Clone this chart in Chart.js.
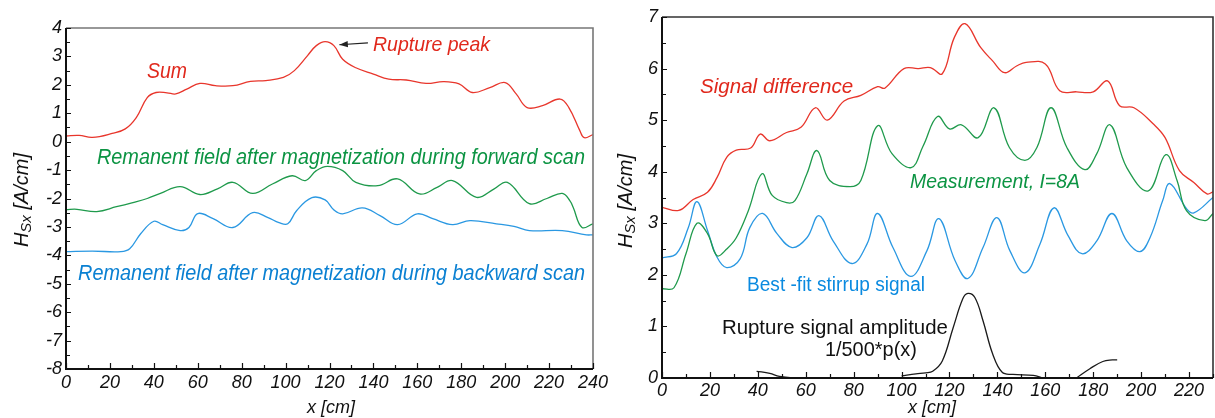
<!DOCTYPE html>
<html>
<head>
<meta charset="utf-8">
<script src="https://cdn.jsdelivr.net/npm/chart.js@4"></script>
<style>
  body { margin: 0; background: #fff; }
  #wrap { position: relative; width: 1215px; height: 418px; }
  .panel { position: absolute; top: 0; height: 418px; }
</style>
</head>
<body>
<div id="wrap">
  <div class="panel" style="left:0;width:620px"><canvas id="left"></canvas></div>
  <div class="panel" style="left:600px;width:615px"><canvas id="right"></canvas></div>
</div>
<script>
// left panel: sum of both remanent scans (x in cm, H in A/cm)
const sumX = [0, 6, 12, 21, 27, 32, 37, 41, 46, 50, 55, 61, 68, 76, 84, 91, 99, 104, 110, 114, 118, 122, 126, 132, 140, 147, 155, 164, 172, 179, 185, 193, 200, 205, 210, 217, 225, 229, 234, 236, 240];
const sumY = [0.2, 0.22, 0.15, 0.29, 0.45, 0.85, 1.55, 1.73, 1.72, 1.68, 1.85, 2.05, 1.97, 1.97, 2.12, 2.15, 2.26, 2.5, 3.03, 3.38, 3.52, 3.38, 2.9, 2.6, 2.38, 2.2, 2.17, 2.05, 2.11, 2.03, 1.73, 1.9, 2.08, 1.68, 1.2, 1.27, 1.5, 1.2, 0.39, 0.14, 0.25];

const fwdX = [0, 5, 14, 23, 30, 37, 43, 52, 61, 69, 76, 85, 94, 103, 109, 114, 119, 126, 132, 142, 151, 161, 169, 176, 187, 195, 201, 211, 219, 226, 229.5, 231, 235, 240];
const fwdY = [-2.39, -2.38, -2.46, -2.29, -2.15, -2.0, -1.82, -1.58, -1.86, -1.66, -1.43, -1.82, -1.49, -1.2, -1.37, -1.02, -0.87, -1.02, -1.43, -1.55, -1.31, -1.84, -1.61, -1.37, -1.96, -1.66, -1.43, -2.18, -2.0, -1.82, -2.08, -2.32, -3.02, -2.89];

const bwdX = [0, 12, 25, 29, 34, 40, 44, 52, 56, 60, 67, 76, 85, 92, 97, 101, 105, 112, 118, 122, 126, 135, 143, 151, 160, 167, 176, 184, 196, 204, 211, 226, 237, 240];
const bwdY = [-3.87, -3.85, -3.87, -3.77, -3.24, -2.8, -2.92, -3.13, -3.02, -2.53, -2.71, -3.02, -2.5, -2.67, -2.85, -2.89, -2.43, -1.97, -2.05, -2.4, -2.54, -2.33, -2.6, -2.92, -2.54, -2.71, -2.92, -2.78, -2.89, -2.98, -3.13, -3.13, -3.28, -3.28];

// right panel: difference signal, measurement, fitted stirrups, rupture amplitude
const diffX = [0, 7, 13, 19, 23, 27, 31, 37, 41, 45, 52, 58, 64, 69, 76, 83, 90, 93, 101, 107, 112, 117, 122, 126.5, 133, 138, 143, 148, 152, 160, 166, 173, 180, 186, 191, 197, 205, 210, 216, 222, 227.5, 230];
const diffY = [3.31, 3.25, 3.46, 3.6, 3.89, 4.28, 4.42, 4.46, 4.73, 4.6, 4.76, 4.86, 5.24, 5.0, 5.37, 5.48, 5.65, 5.62, 6.0, 6.0, 6.02, 5.9, 6.6, 6.87, 6.41, 6.15, 5.92, 6.05, 6.12, 6.09, 5.57, 5.55, 5.55, 5.76, 5.28, 5.24, 4.93, 4.66, 4.02, 3.79, 3.57, 3.61];

const measX = [0, 5, 10, 14.6, 19, 23, 27, 31, 36, 41.7, 46, 52, 55.5, 60.5, 64.7, 70, 78.5, 83, 90, 96, 104, 109, 115, 120, 125, 132, 138.6, 145, 151.5, 156.5, 162.4, 169, 176.5, 181.5, 187, 194, 203, 210.3, 215, 219, 226.6, 230];
const measY = [1.73, 1.75, 2.41, 3.0, 2.8, 2.37, 2.5, 2.72, 3.24, 3.96, 3.54, 3.4, 3.44, 3.96, 4.41, 3.83, 3.71, 3.83, 4.89, 4.35, 4.08, 4.5, 5.07, 4.83, 4.91, 4.66, 5.24, 4.47, 4.22, 4.47, 5.24, 4.47, 4.04, 4.35, 4.91, 4.08, 3.63, 4.33, 3.83, 3.24, 3.05, 3.19];

const fitX = [0, 6, 11, 14.6, 19, 23, 27, 32.6, 36.7, 42, 48, 54.3, 60.5, 65.5, 71.4, 79.3, 85.6, 90, 96.4, 103.8, 110.6, 115.6, 122.3, 127.7, 134, 139.8, 145.2, 151.5, 157.8, 163.6, 169.5, 175.3, 181.5, 187.8, 194, 199.5, 203.7, 209, 212, 219, 222, 230];
const fitY = [2.33, 2.41, 2.92, 3.42, 2.86, 2.34, 2.14, 2.31, 2.92, 3.19, 2.8, 2.53, 2.72, 3.15, 2.66, 2.22, 2.6, 3.19, 2.53, 1.97, 2.47, 3.09, 2.28, 1.93, 2.53, 3.11, 2.47, 2.04, 2.6, 3.3, 2.76, 2.41, 2.66, 3.19, 2.66, 2.45, 2.72, 3.44, 3.77, 3.28, 3.2, 3.5];

// null breaks the line where p(x) sits on the axis
const rupX = [39.5, 45, 49, 56, 60, 80, 100, 106, 110, 113, 117, 121.5, 125.6, 127.7, 130.6, 134, 138, 142, 146.5, 155, 159, 166, 173, 178.6, 184, 188, 190];
const rupY = [0.13, 0.09, 0.03, 0.0, 0.0, null, 0.04, 0.08, 0.1, 0.13, 0.33, 0.97, 1.54, 1.64, 1.56, 1.11, 0.47, 0.11, 0.07, 0.05, 0.0, null, 0.0, 0.18, 0.32, 0.35, 0.35];

const RED = '#e8362c', GREEN = '#1f9a4c', BLUE = '#2a98e2';
const FONT = '"Liberation Sans", Arial, sans-serif';

Chart.defaults.font.family = FONT;
Chart.defaults.color = '#111';

function pts(xs, ys) {
  return xs.map((x, i) => ({ x: x, y: ys[i] }));
}

function line(xs, ys, color) {
  return {
    data: pts(xs, ys),
    borderColor: color,
    borderWidth: 1.3,
    pointRadius: 0,
    tension: 0.4,
    fill: false,
    spanGaps: false
  };
}

// frame, inward ticks, labels inside the plot and the axis titles
const framePlugin = {
  id: 'frame',
  afterDraw(chart, args, opts) {
    const { ctx, chartArea: a } = chart;
    const xs = chart.scales.x, ys = chart.scales.y;
    ctx.save();

    ctx.lineWidth = 1.6;
    ctx.strokeStyle = opts.edgeColor;
    ctx.beginPath();
    ctx.moveTo(a.left, a.top);
    ctx.lineTo(a.right, a.top);
    ctx.lineTo(a.right, a.bottom);
    ctx.stroke();

    ctx.strokeStyle = '#111';
    ctx.lineWidth = 2;
    ctx.beginPath();
    ctx.moveTo(a.left, a.top);
    ctx.lineTo(a.left, a.bottom);
    ctx.lineTo(a.right, a.bottom);
    ctx.stroke();

    ctx.lineWidth = 1.2;
    ctx.beginPath();
    for (let v = xs.min; v <= xs.max; v += 10) {
      const p = Math.round(xs.getPixelForValue(v)) + 0.5;
      const len = v % 20 === 0 ? 6 : 4;
      ctx.moveTo(p, a.bottom);
      ctx.lineTo(p, a.bottom - len);
    }
    for (let v = ys.min; v <= ys.max; v += 0.5) {
      const p = Math.round(ys.getPixelForValue(v)) + 0.5;
      const len = Number.isInteger(v) ? 5 : 4;
      ctx.moveTo(a.left, p);
      ctx.lineTo(a.left + len, p);
    }
    ctx.stroke();

    ctx.textAlign = 'left';
    ctx.textBaseline = 'alphabetic';
    for (const n of opts.notes) {
      ctx.font = n.font;
      ctx.fillStyle = n.color;
      ctx.fillText(n.text, xs.getPixelForValue(n.x), ys.getPixelForValue(n.y), n.width);
    }

    if (opts.arrow) {
      const r = opts.arrow;
      const x1 = xs.getPixelForValue(r.from[0]), y1 = ys.getPixelForValue(r.from[1]);
      const x2 = xs.getPixelForValue(r.to[0]), y2 = ys.getPixelForValue(r.to[1]);
      const ang = Math.atan2(y2 - y1, x2 - x1);
      ctx.strokeStyle = '#222';
      ctx.fillStyle = '#222';
      ctx.lineWidth = 1.2;
      ctx.beginPath();
      ctx.moveTo(x1, y1);
      ctx.lineTo(x2, y2);
      ctx.stroke();
      ctx.beginPath();
      ctx.moveTo(x2, y2);
      ctx.lineTo(x2 - 9 * Math.cos(ang - 0.35), y2 - 9 * Math.sin(ang - 0.35));
      ctx.lineTo(x2 - 9 * Math.cos(ang + 0.35), y2 - 9 * Math.sin(ang + 0.35));
      ctx.closePath();
      ctx.fill();
    }

    // H_Sx [A/cm], rotated, with subscript
    const t = opts.yTitle;
    ctx.fillStyle = '#111';
    ctx.translate(t.cx, t.cy);
    ctx.rotate(-Math.PI / 2);
    const big = 'italic 20px ' + FONT, small = 'italic 15px ' + FONT;
    ctx.font = big;
    const wH = ctx.measureText('H').width;
    const wU = ctx.measureText(' [A/cm]').width;
    ctx.font = small;
    const wS = ctx.measureText('Sx').width;
    let x0 = -(wH + wS + wU) / 2;
    ctx.textBaseline = 'middle';
    ctx.font = big;
    ctx.fillText('H', x0, 0);
    ctx.font = small;
    ctx.fillText('Sx', x0 + wH, 5);
    ctx.font = big;
    ctx.fillText(' [A/cm]', x0 + wH + wS, 0);
    ctx.setTransform(1, 0, 0, 1, 0, 0);

    ctx.font = 'italic 18px ' + FONT;
    ctx.textAlign = 'center';
    ctx.fillText('x [cm]', opts.xTitle.cx, opts.xTitle.cy);
    ctx.restore();
  }
};

function makeChart(id, cfg) {
  return new Chart(document.getElementById(id), {
    type: 'line',
    data: { datasets: cfg.datasets },
    options: {
      responsive: true,
      maintainAspectRatio: false,
      animation: false,
      layout: { padding: cfg.padding },
      plugins: {
        legend: { display: false },
        tooltip: { enabled: false },
        frame: cfg.frame
      },
      scales: {
        x: {
          type: 'linear',
          min: cfg.xMin, max: cfg.xMax,
          grid: { display: false, drawTicks: false },
          border: { display: false },
          ticks: { stepSize: 20, includeBounds: false, maxRotation: 0, padding: cfg.xPad, font: { size: 18, style: 'italic' } },
          afterFit: s => { s.height = cfg.xHeight; }
        },
        y: {
          type: 'linear',
          min: cfg.yMin, max: cfg.yMax,
          grid: { display: false, drawTicks: false },
          border: { display: false },
          ticks: { stepSize: 1, padding: 4, font: { size: 18, style: 'italic' } },
          afterFit: s => { s.width = cfg.yWidth; }
        }
      }
    },
    plugins: [framePlugin]
  });
}

makeChart('left', {
  datasets: [line(sumX, sumY, RED), line(fwdX, fwdY, GREEN), line(bwdX, bwdY, BLUE)],
  padding: { top: 28, right: 27, left: 0, bottom: 0 },
  xMin: 0, xMax: 240, yMin: -8, yMax: 4,
  xPad: 3, xHeight: 49, yWidth: 66,
  frame: {
    edgeColor: '#777',
    notes: [
      { text: 'Sum', x: 36.9, y: 2.25, color: '#e0281c', font: 'italic 22px ' + FONT, width: 40 },
      { text: 'Rupture peak', x: 139.8, y: 3.2, color: '#e0281c', font: 'italic 21px ' + FONT, width: 117 },
      { text: 'Remanent field after magnetization during forward scan', x: 14.1, y: -0.77, color: '#0c9443', font: 'italic 22px ' + FONT, width: 488 },
      { text: 'Remanent field after magnetization during backward scan', x: 5.5, y: -4.86, color: '#0a80d2', font: 'italic 22px ' + FONT, width: 507 }
    ],
    arrow: { from: [137.5, 3.48], to: [124.5, 3.41] },
    yTitle: { cx: 22, cy: 200 },
    xTitle: { cx: 331, cy: 408 }
  }
});

makeChart('right', {
  datasets: [line(diffX, diffY, RED), line(measX, measY, GREEN), line(fitX, fitY, BLUE), line(rupX, rupY, '#1a1a1a')],
  padding: { top: 17, right: 2, left: 0, bottom: 0 },
  xMin: 0, xMax: 230, yMin: 0, yMax: 7,
  xPad: 2, xHeight: 40, yWidth: 62,
  frame: {
    edgeColor: '#333',
    notes: [
      { text: 'Signal difference', x: 15.9, y: 5.53, color: '#e0281c', font: 'italic 21px ' + FONT, width: 153 },
      { text: 'Measurement, I=8A', x: 103.5, y: 3.69, color: '#0c9443', font: 'italic 20px ' + FONT, width: 170 },
      { text: 'Best -fit stirrup signal', x: 35.5, y: 1.68, color: '#0a8ae0', font: '20px ' + FONT, width: 178 },
      { text: 'Rupture signal amplitude', x: 25, y: 0.86, color: '#111', font: '21px ' + FONT, width: 226 },
      { text: '1/500*p(x)', x: 68, y: 0.43, color: '#111', font: '21px ' + FONT, width: 92 }
    ],
    arrow: null,
    yTitle: { cx: 26, cy: 201 },
    xTitle: { cx: 332, cy: 408 }
  }
});
</script>
</body>
</html>
